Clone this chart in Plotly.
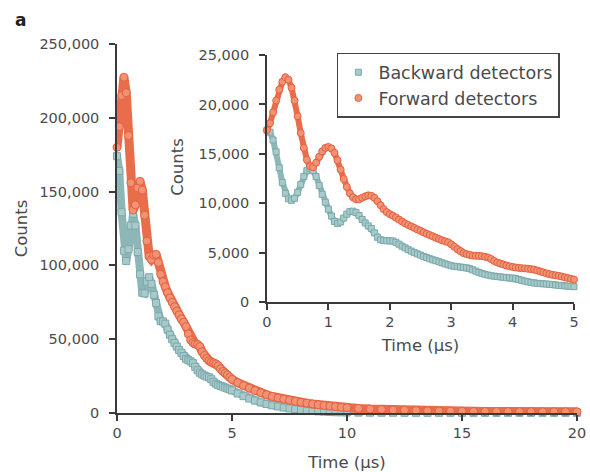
import numpy as np
import plotly.graph_objects as go

# ---------------- data ----------------
# Inset (0-5 us), sampled every 0.05 us
inset_time = np.round(np.arange(0, 5.0001, 0.05), 2)
inset_forward = [
    17400, 18100, 19200, 20400, 21500, 22300, 22750, 22500, 21700, 20400,
    18800, 17100, 15600, 14400, 13750, 13650, 14100, 14700, 15250, 15600,
    15700, 15550, 15100, 14350, 13400, 12450, 11650, 11000, 10600, 10400,
    10400, 10550, 10700, 10800, 10750, 10550, 10200, 9800, 9400, 9100,
    8900, 8750, 8550, 8350, 8150, 7950, 7800, 7650, 7500, 7350,
    7200, 7050, 6900, 6780, 6650, 6500, 6380, 6250, 6150, 6050,
    5850, 5600, 5350, 5150, 4950, 4850, 4770, 4700, 4680, 4670,
    4640, 4580, 4500, 4350, 4150, 4000, 3900, 3800, 3700, 3620,
    3550, 3500, 3450, 3420, 3400, 3370, 3330, 3280, 3200, 3100,
    3000, 2900, 2820, 2750, 2700, 2650, 2580, 2500, 2420, 2350,
    2280,
]
inset_backward = [
    17400, 17200, 16400, 15200, 13600, 12100, 11000, 10450, 10300, 10500,
    11100, 11900, 12700, 13300, 13500, 13300, 12700, 11800, 10900, 10100,
    9400, 8700, 8150, 7950, 8100, 8500, 8900, 9150, 9200, 9050,
    8750, 8350, 8000, 7700, 7450, 7000, 6550, 6300, 6220, 6200,
    6200, 6180, 6050, 5850, 5650, 5480, 5300, 5150, 5000, 4870,
    4750, 4620, 4500, 4380, 4270, 4180, 4080, 3970, 3860, 3760,
    3670, 3620, 3580, 3540, 3500, 3460, 3380, 3260, 3130, 3000,
    2900, 2810, 2730, 2660, 2620, 2580, 2540, 2500, 2470, 2440,
    2420, 2370, 2290, 2200, 2110, 2040, 1980, 1930, 1890, 1860,
    1840, 1820, 1790, 1760, 1720, 1690, 1660, 1630, 1600, 1570,
    1550,
]

# Main panel (0-20 us)
main_time = np.round(np.concatenate([
    np.arange(0, 4.95, 0.1),
    np.arange(5, 9.9, 0.25),
    np.arange(10, 20.001, 0.5),
]), 2)
main_forward = [
    180000, 194000, 215000, 227500, 217000, 188000, 156000, 137500, 141000, 152500,
    157000, 151000, 134000, 116500, 106000, 104000, 107000, 107500, 102000, 94000,
    89000, 85500, 81500, 78000, 75000, 72000, 69000, 66500, 63800, 61500,
    58500, 53500, 49500, 47700, 46800, 46400, 45000, 41500, 39000, 37000,
    35500, 34500, 34000, 33300, 32000, 30000, 28200, 27000, 25800, 24200,
    22800, 20500, 18600, 16800, 15200, 13700, 12400, 11200, 10200, 9400,
    8600, 7900, 7300, 6700, 6100, 5600, 5100, 4700, 4300, 3900,
    3600, 3100, 2700, 2400, 2100, 1900, 1700, 1500, 1400, 1300,
    1200, 1100, 1050, 1000, 950, 900, 880, 860, 840, 820, 800,
]
main_backward = [
    174000, 164000, 136000, 110000, 103000, 111000, 127000, 135000, 127000, 109000,
    94000, 81500, 81000, 89000, 92000, 87500, 80000, 74500, 65500, 62200,
    62000, 60500, 56500, 53000, 50000, 47500, 45000, 42700, 40800, 38600,
    36700, 35800, 35000, 33800, 31300, 29000, 27300, 26200, 25400, 24700,
    24200, 22900, 21100, 19800, 18900, 18400, 17900, 17200, 16600, 16000,
    15300, 13200, 11400, 9800, 8400, 7200, 6100, 5200, 4400, 3700,
    3100, 2600, 2100, 1700, 1400, 1100, 900, 700, 550, 450,
    350, 250, 200, 170, 150, 130, 120, 110, 100, 100,
    100, 100, 100, 100, 100, 100, 100, 100, 100, 100, 100,
]

series_names = ["Backward detectors", "Forward detectors"]
main_x_ticks = [0, 5, 10, 15, 20]
main_y_ticks = [0, 50000, 100000, 150000, 200000, 250000]
inset_x_ticks = [0, 1, 2, 3, 4, 5]
inset_y_ticks = [0, 5000, 10000, 15000, 20000, 25000]

# ---------------- styles ----------------
FONT = "DejaVu Sans"
AX = "#3a3a3a"
TXT = "#4a4a4a"
teal_fill, teal_edge, teal_line = "#a9caca", "#7ca9ab", "#8db6b7"
org_fill, org_edge, org_line = "#f29274", "#e4613f", "#e96c4b"

fig = go.Figure()

def add_series(x, y, xa, ya, name, symbol, fill, edge, linec, show, size, lw):
    fig.add_trace(go.Scatter(
        x=x, y=y, xaxis=xa, yaxis=ya, mode="lines",
        line=dict(color=linec, width=lw), showlegend=False,
        hoverinfo="skip", cliponaxis=False))
    fig.add_trace(go.Scatter(
        x=x, y=y, xaxis=xa, yaxis=ya, mode="markers", name=name,
        marker=dict(symbol=symbol, size=size, color=fill,
                    line=dict(color=edge, width=1)),
        showlegend=show, cliponaxis=False))

add_series(main_time, main_backward, "x", "y", series_names[0], "square",
           teal_fill, teal_edge, teal_line, False, 7, 8)
add_series(main_time, main_forward, "x", "y", series_names[1], "circle",
           org_fill, org_edge, org_line, False, 8, 9)
add_series(inset_time, inset_backward, "x2", "y2", series_names[0], "square",
           teal_fill, teal_edge, teal_line, True, 6, 6)
add_series(inset_time, inset_forward, "x2", "y2", series_names[1], "circle",
           org_fill, org_edge, org_line, True, 7, 6)

axis_common = dict(showline=True, linecolor=AX, linewidth=1.5, ticks="outside",
                   ticklen=6, tickwidth=1.5, tickcolor=AX, showgrid=False,
                   zeroline=False, automargin=False,
                   tickfont=dict(family=FONT, size=14.5, color=TXT),
                   title_font=dict(family=FONT, size=16.5, color=TXT))

fig.update_layout(
    width=590, height=472,
    margin=dict(l=117, r=13, t=44, b=59),
    plot_bgcolor="white", paper_bgcolor="white",
    font=dict(family=FONT, color=TXT),
    xaxis=dict(domain=[0, 1], range=[0, 20], tickvals=main_x_ticks,
               title=dict(text="Time (µs)", standoff=16), **axis_common),
    yaxis=dict(domain=[0, 1], range=[0, 250000], tickvals=main_y_ticks,
               tickformat=",d", ticklabelstandoff=7,
               title=dict(text="Counts", standoff=8), **axis_common),
    xaxis2=dict(domain=[0.326, 0.9935], range=[0, 5], tickvals=inset_x_ticks,
                anchor="y2", title=dict(text="Time (µs)", standoff=10), **axis_common),
    yaxis2=dict(domain=[0.3008, 0.970], range=[0, 25000], tickvals=inset_y_ticks,
                anchor="x2", tickformat=",d", ticklabelstandoff=7, **axis_common),
    legend=dict(x=0.478, y=0.976, xanchor="left", yanchor="top",
                bordercolor="#444", borderwidth=1.5, bgcolor="white",
                font=dict(family=FONT, size=17.5, color=TXT),
                tracegroupgap=0, itemwidth=30),
    annotations=[
        dict(text="<b>a</b>", x=-0.226, y=1.065, xref="paper", yref="paper",
             xanchor="left", yanchor="middle", showarrow=False,
             font=dict(family=FONT, size=17, color="#222")),
        dict(text="Counts", x=0.1326, y=0.667, xref="paper", yref="paper",
             xanchor="center", yanchor="middle", textangle=-90, showarrow=False,
             font=dict(family=FONT, size=16.5, color=TXT)),
    ],
)

fig.write_html("out.html")
